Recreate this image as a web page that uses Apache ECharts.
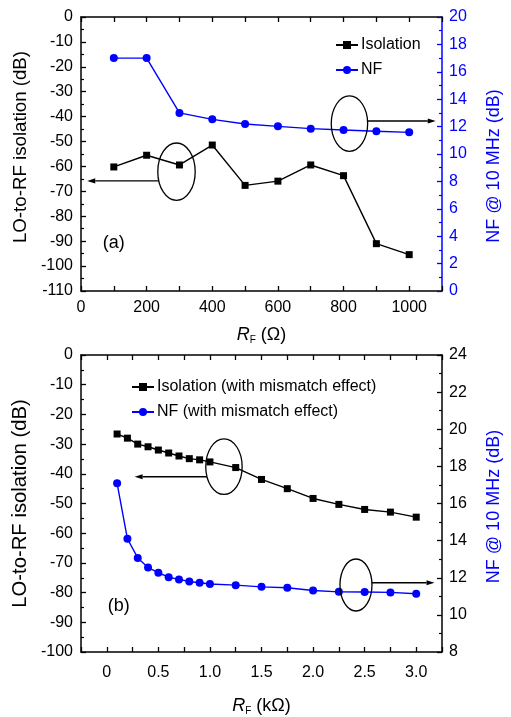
<!DOCTYPE html>
<html>
<head>
<meta charset="utf-8">
<script src="https://cdn.jsdelivr.net/npm/echarts@6/dist/echarts.min.js"></script>
<style>
html,body{margin:0;padding:0;background:#fff;}
#c{width:511px;height:717px;}
</style>
</head>
<body>
<div id="c"></div>
<script>
// ---- data (a) ----
const topR = [100, 200, 300, 400, 500, 600, 700, 800, 900, 1000];
const topIso = [-60.2, -55.5, -59.4, -51.4, -67.6, -65.9, -59.4, -63.7, -91.0, -95.4];
const topNF = [17.0, 17.0, 13.0, 12.53, 12.19, 12.02, 11.85, 11.75, 11.66, 11.58];
// ---- data (b) ----
const botR = [0.1, 0.2, 0.3, 0.4, 0.5, 0.6, 0.7, 0.8, 0.9, 1.0, 1.25, 1.5, 1.75, 2.0, 2.25, 2.5, 2.75, 3.0];
const botIso = [-26.6, -28.0, -30.0, -30.9, -32.0, -33.0, -34.0, -34.9, -35.3, -36.0, -37.9, -41.9, -45.0, -48.3, -50.3, -52.0, -52.9, -54.6];
const botNF = [17.09, 14.10, 13.07, 12.55, 12.27, 12.03, 11.91, 11.80, 11.73, 11.66, 11.60, 11.51, 11.46, 11.31, 11.24, 11.23, 11.21, 11.14];

const FONT = 'Arial, "Liberation Sans", sans-serif';
const BLUE = '#0000ff';
const BLACK = '#000000';

function pairs(xs, ys) { return xs.map((x, i) => [x, ys[i]]); }

function xAx(grid, pos, min, max, interval, showLabel, fmt, nameStr, margin, gap) {
  return {
    type: 'value', gridIndex: grid, position: pos, min: min, max: max, interval: interval,
    axisLine: { show: true, onZero: false, lineStyle: { color: BLACK, width: 1.5 } },
    axisTick: { show: true, inside: true, length: 5, lineStyle: { color: BLACK, width: 1.3 } },
    minorTick: { show: false },
    splitLine: { show: false },
    axisLabel: { show: showLabel, formatter: fmt, fontSize: 16, color: BLACK, fontFamily: FONT, margin: margin || 9, showMinLabel: true, showMaxLabel: true },
    name: nameStr || '', nameLocation: 'middle', nameGap: gap || 36,
    nameTextStyle: {
      fontSize: 18, color: BLACK, fontFamily: FONT,
      rich: {
        i: { fontStyle: 'italic', fontSize: 18, fontFamily: FONT, color: BLACK },
        s: { fontSize: 10, fontFamily: FONT, color: BLACK, padding: [10, 0, 0, 0] },
        n: { fontSize: 18, fontFamily: FONT, color: BLACK }
      }
    }
  };
}

function yAx(grid, pos, min, max, interval, color, labelColor, nameStr, nameColor, gap, nameSize, margin, namePad) {
  return {
    type: 'value', gridIndex: grid, position: pos, min: min, max: max, interval: interval,
    axisLine: { show: true, onZero: false, lineStyle: { color: color, width: 1.5 } },
    axisTick: { show: true, inside: true, length: 5, lineStyle: { color: color, width: 1.3 } },
    minorTick: { show: true, splitNumber: 2, length: 3, lineStyle: { color: color, width: 1.2 } },
    splitLine: { show: false },
    axisLabel: { show: true, fontSize: 16, color: labelColor, fontFamily: FONT, margin: margin },
    name: nameStr, nameLocation: 'middle', nameGap: gap,
    nameTextStyle: { fontSize: nameSize, color: nameColor, fontFamily: FONT, padding: namePad }
  };
}

const fmtTop = v => (Math.round(v) % 200 === 0 && v <= 1000) ? String(v) : '';
const fmtBot = v => {
  if (v < -1e-6 || v > 3.0001) return '';
  const d = v * 2;
  if (Math.abs(d - Math.round(d)) > 1e-6) return '';
  return Math.abs(v) < 1e-6 ? '0' : v.toFixed(1);
};

const chart = echarts.init(document.getElementById('c'), null, { renderer: 'canvas' });

const option = {
  backgroundColor: '#fff',
  animation: false,
  textStyle: { fontFamily: FONT },
  grid: [
    { left: 81, top: 17, width: 363, height: 274 },
    { left: 81, top: 355, width: 363, height: 297 }
  ],
  legend: [
    {
      data: ['Isolation', 'NF'], orient: 'vertical', left: 330, top: 32,
      itemWidth: 22, itemHeight: 10, itemGap: 9,
      textStyle: { fontSize: 16, color: BLACK, fontFamily: FONT, padding: [0, 0, 0, -2] }
    },
    {
      data: ['Isolation (with mismatch effect)', 'NF (with mismatch effect)'], orient: 'vertical', left: 126, top: 374,
      itemWidth: 22, itemHeight: 10, itemGap: 9,
      textStyle: { fontSize: 16, color: BLACK, fontFamily: FONT, padding: [0, 0, 0, -2] }
    }
  ],
  xAxis: [
    xAx(0, 'bottom', 0, 1100, 100, true, fmtTop, '{i|R}{s|F} ({n|Ω})', 9, 34),
    xAx(0, 'top', 0, 1100, 100, false, fmtTop, ''),
    xAx(1, 'bottom', -0.25, 3.25, 0.25, true, fmtBot, '{i|R}{s|F} ({n|kΩ})', 13, 44),
    xAx(1, 'top', -0.25, 3.25, 0.25, false, fmtBot, '')
  ],
  yAxis: [
    yAx(0, 'left', -110, 0, 10, BLACK, BLACK, 'LO-to-RF isolation (dB)', BLACK, 47, 18.7, 8, [0, 0, 0, 14]),
    yAx(0, 'right', 0, 20, 2, BLUE, BLUE, 'NF @ 10 MHz (dB)', BLUE, 43, 18, 7, [0, 24, 0, 0]),
    yAx(1, 'left', -100, 0, 10, BLACK, BLACK, 'LO-to-RF isolation (dB)', BLACK, 48, 20.3, 8, 0),
    yAx(1, 'right', 8, 24, 2, BLACK, BLACK, 'NF @ 10 MHz (dB)', BLUE, 43, 18, 7, [0, 6, 0, 0])
  ],
  series: [
    {
      name: 'Isolation', type: 'line', xAxisIndex: 0, yAxisIndex: 0,
      data: pairs(topR, topIso), symbol: 'rect', symbolSize: 7,
      lineStyle: { color: BLACK, width: 1.4 }, itemStyle: { color: BLACK }
    },
    {
      name: 'NF', type: 'line', xAxisIndex: 0, yAxisIndex: 1,
      data: pairs(topR, topNF), symbol: 'circle', symbolSize: 8,
      lineStyle: { color: BLUE, width: 1.4 }, itemStyle: { color: BLUE }
    },
    {
      name: 'Isolation (with mismatch effect)', type: 'line', xAxisIndex: 2, yAxisIndex: 2,
      data: pairs(botR, botIso), symbol: 'rect', symbolSize: 7,
      lineStyle: { color: BLACK, width: 1.4 }, itemStyle: { color: BLACK }
    },
    {
      name: 'NF (with mismatch effect)', type: 'line', xAxisIndex: 2, yAxisIndex: 3,
      data: pairs(botR, botNF), symbol: 'circle', symbolSize: 8,
      lineStyle: { color: BLUE, width: 1.4 }, itemStyle: { color: BLUE }
    }
  ]
};
chart.setOption(option);

// ---- annotations (anchored in data coordinates) ----
const ellipses = [
  { x: 0, y: 0, c: [291, -62.1], rx: 18.7, ry: 28.7, arrowTo: [19, -65.8], side: 'left' },
  { x: 0, y: 1, c: [818, 12.22], rx: 18.2, ry: 27.7, arrowTo: [1081, 12.41], side: 'right' },
  { x: 2, y: 2, c: [1.136, -37.6], rx: 18.2, ry: 27.8, arrowTo: [0.27, -41.0], side: 'left' },
  { x: 2, y: 3, c: [2.416, 11.61], rx: 16, ry: 26, arrowTo: [3.177, 11.73], side: 'right' }
];
const panelLabels = [
  { x: 0, y: 0, pos: [100, -90.8], text: '(a)' },
  { x: 2, y: 2, pos: [0.117, -84.4], text: '(b)' }
];

const g = [];
ellipses.forEach(e => {
  const f = { xAxisIndex: e.x, yAxisIndex: e.y };
  const c = chart.convertToPixel(f, e.c);
  g.push({ type: 'ellipse', shape: { cx: c[0], cy: c[1], rx: e.rx, ry: e.ry }, style: { fill: 'none', stroke: BLACK, lineWidth: 1.3 }, z: 100 });
  const to = chart.convertToPixel(f, e.arrowTo);
  const yy = to[1];
  const dy = (yy - c[1]) / e.ry;
  const dx = e.rx * Math.sqrt(Math.max(0, 1 - dy * dy));
  const sx = e.side === 'left' ? c[0] - dx : c[0] + dx;
  const dir = e.side === 'left' ? -1 : 1;
  const headLen = 8, headW = 2.6;
  g.push({ type: 'line', shape: { x1: sx, y1: yy, x2: to[0] - dir * headLen, y2: yy }, style: { stroke: BLACK, lineWidth: 1.3 }, z: 100 });
  g.push({ type: 'polygon', shape: { points: [[to[0], yy], [to[0] - dir * headLen, yy - headW], [to[0] - dir * headLen, yy + headW]] }, style: { fill: BLACK }, z: 100 });
});
panelLabels.forEach(p => {
  const c = chart.convertToPixel({ xAxisIndex: p.x, yAxisIndex: p.y }, p.pos);
  g.push({ type: 'text', x: c[0], y: c[1], style: { text: p.text, fontSize: 18, fontFamily: FONT, fill: BLACK, textAlign: 'center', textVerticalAlign: 'middle' }, z: 100 });
});
chart.setOption({ graphic: g });
</script>
</body>
</html>
